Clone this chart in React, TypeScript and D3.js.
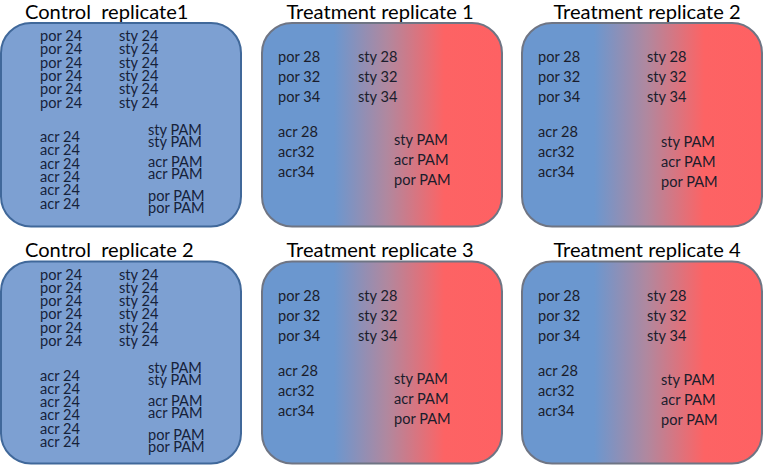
import React from "react";
import * as d3 from "d3";

// ---- data (labels) ----
const panelTitles = [
  "Control  replicate1",
  "Treatment replicate 1",
  "Treatment replicate 2",
  "Control  replicate 2",
  "Treatment replicate 3",
  "Treatment replicate 4",
];
const panelKinds = ["control", "treatment", "treatment", "control", "treatment", "treatment"];

const controlPor = ["por 24", "por 24", "por 24", "por 24", "por 24", "por 24"];
const controlSty = ["sty 24", "sty 24", "sty 24", "sty 24", "sty 24", "sty 24"];
const controlAcr = ["acr 24", "acr 24", "acr 24", "acr 24", "acr 24", "acr 24"];
const controlPamSty = ["sty PAM", "sty PAM"];
const controlPamAcr = ["acr PAM", "acr PAM"];
const controlPamPor = ["por PAM", "por PAM"];

const treatPor = ["por 28", "por 32", "por 34"];
const treatSty = ["sty 28", "sty 32", "sty 34"];
const treatAcr = ["acr 28", "acr32", "acr34"];
const treatPam = ["sty PAM", "acr PAM", "por PAM"];

// ---- layout ----
const W = 768;
const H = 466;
const colX = [1, 262, 522];
const rowTop = [23, 261.5];
const rowH = [203.5, 202];
const boxW = 240;
const titleBaseline = [19, 257];
const titleShift = [0, -2, 5, 0, -2, 5];

// treatment column offsets per panel (second column & PAM column)
const treatStyOffset = [0, 96, 125, 0, 96, 125];
const treatPamOffset = [0, 132, 139, 0, 132, 139];
const treatPamTop = [0, 122, 123.5, 0, 122.5, 123.5];

const innerFont = "Lato, 'Open Sans', sans-serif";
const innerSize = 14.6;
const titleSize = 20.1;

function Column({ labels, x, y0, step, fill }: { labels: string[]; x: number; y0: number; step: number; fill: string }) {
  const y = d3.scaleLinear().domain([0, 1]).range([y0, y0 + step]);
  return (
    <g>
      {labels.map((t, i) => (
        <text key={i} x={x} y={y(i)} fontSize={innerSize} fontFamily={innerFont} fill={fill}>
          {t}
        </text>
      ))}
    </g>
  );
}

export default function App() {
  return (
    <svg width={W} height={H} style={{ position: "absolute", left: 0, top: 0 }}>
      <defs>
        <linearGradient id="treatGrad" x1="0" x2="1" y1="0" y2="0">
          <stop offset="0" stopColor="#6b97cf" />
          <stop offset="0.3" stopColor="#6b97cf" />
          <stop offset="0.52" stopColor="#b0889f" />
          <stop offset="0.76" stopColor="#fd6364" />
          <stop offset="1" stopColor="#fe6163" />
        </linearGradient>
      </defs>
      <rect x={0} y={0} width={W} height={H} fill="#ffffff" />
      {panelTitles.map((title, p) => {
        const c = p % 3;
        const r = Math.floor(p / 3);
        const bx = colX[c];
        const by = rowTop[r];
        const bh = rowH[r];
        const isControl = panelKinds[p] === "control";
        const cx = bx + boxW / 2;
        return (
          <g key={p}>
            <rect
              x={bx}
              y={by}
              width={boxW}
              height={bh}
              rx={30}
              ry={30}
              fill={isControl ? "#7da0d2" : "url(#treatGrad)"}
              stroke={isControl ? "#40689a" : "#6f7584"}
              strokeWidth={2}
            />
            {isControl ? (
              <text
                x={bx + 24}
                y={titleBaseline[r]}
                fontSize={titleSize}
                fontFamily={innerFont}
                fill="#000"
                style={{ whiteSpace: "pre" }}
              >
                {title}
              </text>
            ) : (
              <text
                x={cx + titleShift[p]}
                y={titleBaseline[r]}
                fontSize={titleSize}
                fontFamily={innerFont}
                fill="#000"
                textAnchor="middle"
              >
                {title}
              </text>
            )}
            {isControl ? (
              <g>
                <Column labels={controlPor} x={bx + 39} y0={by + 18} step={13.3} fill="#16223a" />
                <Column labels={controlSty} x={bx + 118} y0={by + 18} step={13.3} fill="#16223a" />
                <Column labels={controlAcr} x={bx + 39} y0={by + 119} step={13.3} fill="#16223a" />
                <Column labels={controlPamSty} x={bx + 147} y0={by + 111.5} step={12} fill="#16223a" />
                <Column labels={controlPamAcr} x={bx + 147} y0={by + 144} step={12} fill="#16223a" />
                <Column labels={controlPamPor} x={bx + 147} y0={by + 178} step={12} fill="#16223a" />
              </g>
            ) : (
              <g>
                <Column labels={treatPor} x={bx + 16} y0={by + 39.3} step={20} fill="#1a1d2c" />
                <Column labels={treatSty} x={bx + treatStyOffset[p]} y0={by + 39.3} step={20} fill="#1a1d2c" />
                <Column labels={treatAcr} x={bx + 16} y0={by + 114} step={20} fill="#1a1d2c" />
                <Column labels={treatPam} x={bx + treatPamOffset[p]} y0={by + treatPamTop[p]} step={20} fill="#1a1d2c" />
              </g>
            )}
          </g>
        );
      })}
    </svg>
  );
}
